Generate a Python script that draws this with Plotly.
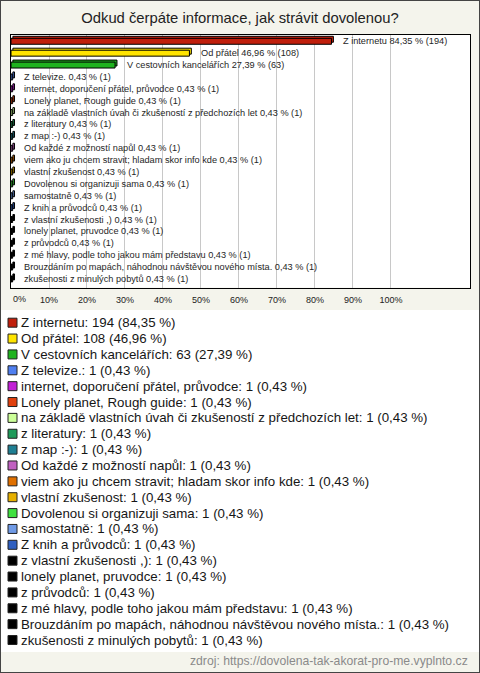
import plotly.graph_objects as go

title = "Odkud čerpáte informace, jak strávit dovolenou?"
source = "zdroj: https://dovolena-tak-akorat-pro-me.vyplnto.cz"

categories = [
    "Z internetu", "Od přátel", "V cestovních kancelářích", "Z televize.",
    "internet, doporučení přátel, průvodce", "Lonely planet, Rough guide",
    "na základě vlastních úvah či zkušeností z předchozích let", "z literatury",
    "z map :-)", "Od každé z možností napůl",
    "viem ako ju chcem stravit; hladam skor info kde", "vlastní zkušenost",
    "Dovolenou si organizuji sama", "samostatně", "Z knih a průvodců",
    "z vlastní zkušenosti ,)", "lonely planet, pruvodce", "z průvodců",
    "z mé hlavy, podle toho jakou mám představu",
    "Brouzdáním po mapách, náhodnou návštěvou nového místa.",
    "zkušenosti z minulých pobytů",
]
counts = [194, 108, 63] + [1] * 18
percents = [84.35, 46.96, 27.39] + [0.43] * 18
colors = ["#c01f0c", "#ffe400", "#1fb31f", "#4f7ff0", "#c21fd6", "#e0400e",
          "#ccff99", "#1f9a5a", "#1f7f93", "#c060c0", "#e07000", "#e6b000",
          "#40e040", "#6f9ae6", "#2f5fc0"] + ["#000000"] * 6
tick_vals = [0, 10, 20, 30, 40, 50, 60, 70, 80, 90, 100]
tick_text = ["0%", "10%", "20%", "30%", "40%", "50%", "60%", "70%", "80%", "90%", "100%"]

def fmt(v):
    return f"{v:.2f}".replace(".", ",")

FONT = "Liberation Sans, Arial, sans-serif"
W, H = 480, 673
idx = list(range(len(categories)))

fig = go.Figure()
# depth (3D back face) of each bar
fig.add_trace(go.Bar(
    x=percents, y=idx, base=0.5, orientation="h", width=0.5, offset=-0.42,
    marker=dict(color=colors, line=dict(color="#000000", width=1)),
    xaxis="x", yaxis="y", showlegend=False, hoverinfo="skip",
))
# front face
fig.add_trace(go.Bar(
    x=percents, y=idx, orientation="h", width=0.5, offset=-0.25,
    marker=dict(color=colors, line=dict(color="#000000", width=1)),
    xaxis="x", yaxis="y", showlegend=False, hoverinfo="skip",
))
# legend markers
fig.add_trace(go.Scatter(
    x=[12.5] * len(idx), y=idx, mode="markers",
    marker=dict(symbol="square", size=9, color=colors, line=dict(color="#222222", width=1)),
    xaxis="x2", yaxis="y2", showlegend=False, hoverinfo="skip", cliponaxis=False,
))

annotations = []
for c, p, n, i in zip(categories, percents, counts, idx):
    annotations.append(dict(
        text=f"{c} {fmt(p)} % ({n})", x=p, y=i, xref="x", yref="y",
        xanchor="left", yanchor="middle", xshift=9.5, showarrow=False,
        font=dict(family=FONT, size=9.2, color="#262626"),
    ))
    annotations.append(dict(
        text=f"{c}: {n} ({fmt(p)} %)", x=19, y=i, xref="x2", yref="y2",
        xanchor="left", yanchor="middle", showarrow=False,
        font=dict(family=FONT, size=13.3, color="#161616"),
    ))
# first tick label sits inside the plot edge (left-aligned) as in the original
annotations.append(dict(text=tick_text[0], x=tick_vals[0], y=1 - 299 / H, xref="x", yref="paper",
                        xanchor="left", yanchor="middle", showarrow=False,
                        font=dict(family=FONT, size=9, color="#222222")))
annotations.append(dict(text=source, x=470 / W, y=1 - 661 / H, xref="paper", yref="paper",
                        xanchor="right", yanchor="middle", showarrow=False,
                        font=dict(family=FONT, size=12.2, color="#8a8a8a")))

fig.update_layout(
    width=W, height=H, margin=dict(l=0, r=0, t=0, b=0),
    paper_bgcolor="#f4f4ec", plot_bgcolor="#ffffff",
    font=dict(family=FONT, color="#222222"),
    title=dict(text=title, x=0.5, xanchor="center", y=1 - 18 / H, yanchor="middle",
               font=dict(family=FONT, size=14.8, color="#222222")),
    xaxis=dict(domain=[11 / W, 470 / W], range=[0, 120.8],
               tickvals=tick_vals[1:], ticktext=tick_text[1:],
               showgrid=True, gridcolor="#c8c8c8", gridwidth=1, zeroline=False,
               showline=True, linecolor="#000000", linewidth=1, mirror=True,
               ticks="", ticklabelstandoff=4,
               tickfont=dict(family=FONT, size=9, color="#222222"), fixedrange=True),
    yaxis=dict(domain=[1 - 287.5 / H, 1 - 35 / H], range=[20.72, -0.53],
               showticklabels=False, showgrid=False, zeroline=False,
               showline=True, linecolor="#000000", linewidth=1, mirror=True, ticks=""),
    xaxis2=dict(domain=[0, 1], range=[0, W], visible=False, anchor="y2"),
    yaxis2=dict(domain=[1 - 652 / H, 1 - 310 / H], range=[20.756, -0.8], visible=False, anchor="x2"),
    barmode="overlay",
    annotations=annotations,
    shapes=[dict(type="rect", xref="paper", yref="paper", x0=0, y0=0, x1=1, y1=1,
                 line=dict(color="#444444", width=2))],
)

fig.write_html("out.html", config={"displayModeBar": False},
               post_script="document.body.style.margin='0px';document.body.style.overflow='hidden';")
